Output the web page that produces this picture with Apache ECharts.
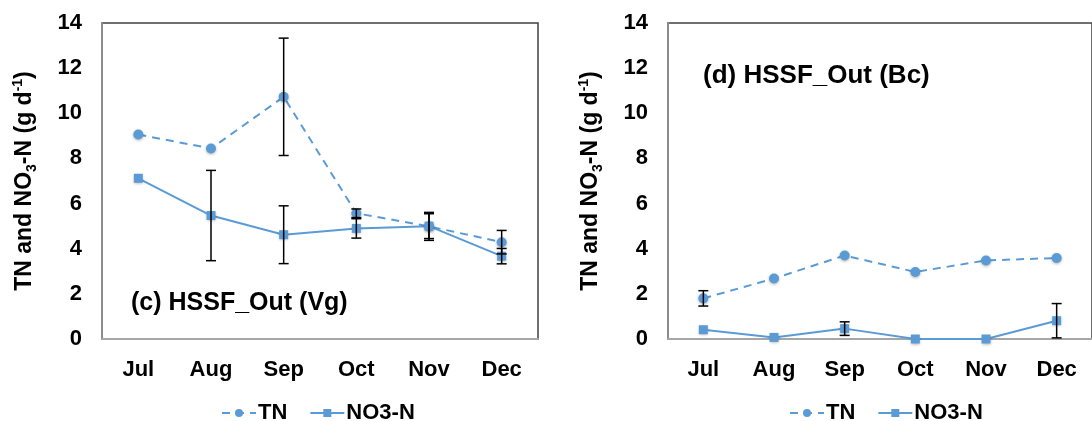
<!DOCTYPE html>
<html>
<head>
<meta charset="utf-8">
<script src="https://cdn.jsdelivr.net/npm/echarts@6/dist/echarts.min.js"></script>
<style>
  html, body { margin: 0; padding: 0; background: #fff; }
  #chart { width: 1092px; height: 421px; }
</style>
</head>
<body>
<div id="chart"></div>
<script>
// months on the x axis
const months = ['Jul', 'Aug', 'Sep', 'Oct', 'Nov', 'Dec']
const yTicks = [0, 2, 4, 6, 8, 10, 12, 14]

// (c) HSSF_Out (Vg)
const vgTN = [9.06, 8.44, 10.73, 5.57, 4.99, 4.29]
const vgTNErr = [0, 0, 2.6, 0.19, 0.62, 0.52]
const vgNO3 = [7.12, 5.47, 4.62, 4.9, 5.0, 3.67]
const vgNO3Err = [0, 2.0, 1.28, 0.43, 0.55, 0.34]

// (d) HSSF_Out (Bc)
const bcTN = [1.8, 2.68, 3.7, 2.97, 3.48, 3.59]
const bcTNErr = [0.34, 0, 0, 0, 0, 0]
const bcNO3 = [0.41, 0.07, 0.46, 0.0, 0.0, 0.81]
const bcNO3Err = [0, 0, 0.3, 0, 0, 0.76]

const blue = '#5b9bd5'
const font = "'Liberation Sans', Arial, sans-serif"

const chart = echarts.init(document.getElementById('chart'))

function errData (vals, errs) {
  const out = []
  vals.forEach((v, i) => {
    if (errs[i] > 0) out.push([i, v - errs[i], v + errs[i]])
  })
  return out
}

// vertical error bar with caps
function renderErr (params, api) {
  const lo = api.coord([api.value(0), api.value(1)])
  const hi = api.coord([api.value(0), api.value(2)])
  const cap = 5
  const style = { stroke: '#000', lineWidth: 1.5 }
  return {
    type: 'group',
    children: [
      { type: 'line', shape: { x1: lo[0], y1: lo[1], x2: hi[0], y2: hi[1] }, style },
      { type: 'line', shape: { x1: lo[0] - cap, y1: lo[1], x2: lo[0] + cap, y2: lo[1] }, style },
      { type: 'line', shape: { x1: hi[0] - cap, y1: hi[1], x2: hi[0] + cap, y2: hi[1] }, style }
    ]
  }
}

function xAxisOf (gridIndex) {
  return {
    type: 'category',
    gridIndex,
    data: months,
    boundaryGap: true,
    axisTick: { show: false },
    axisLine: { lineStyle: { color: '#a6a6a6', width: 2 } },
    axisLabel: { color: '#000', fontWeight: 'bold', fontSize: 22, fontFamily: font, margin: 20 }
  }
}

function yAxisOf (gridIndex) {
  return {
    type: 'value',
    gridIndex,
    min: 0,
    max: 14,
    interval: 2,
    splitLine: { show: false },
    axisTick: { show: false },
    axisLine: { show: true, lineStyle: { color: '#8c8c8c', width: 2 } },
    axisLabel: {
      color: '#000', fontWeight: 'bold', fontSize: 22, fontFamily: font, margin: 20,
      formatter: v => (yTicks.includes(v) ? String(v) : '')
    },
    name: 'TN and NO{sub|3}-N (g d{sup|-1})',
    nameLocation: 'middle',
    nameGap: 63,
    nameTextStyle: {
      color: '#000',
      fontWeight: 'bold',
      fontSize: 23,
      fontFamily: font,
      lineHeight: 28,
      rich: {
        sub: { fontSize: 14, fontWeight: 'bold', fontFamily: font, color: '#000', verticalAlign: 'bottom', lineHeight: 28 },
        sup: { fontSize: 14, fontWeight: 'bold', fontFamily: font, color: '#000', verticalAlign: 'top', lineHeight: 28 }
      }
    }
  }
}

function lineSeries (name, data, idx, dashed) {
  return {
    name,
    type: 'line',
    xAxisIndex: idx,
    yAxisIndex: idx,
    data,
    symbol: dashed ? 'circle' : 'rect',
    symbolSize: dashed ? 10 : 9,
    z: 3,
    lineStyle: { color: blue, width: 2, type: dashed ? [8, 6] : 'solid' },
    itemStyle: {
      color: blue,
      shadowBlur: 3,
      shadowColor: 'rgba(0,0,0,0.3)',
      shadowOffsetY: 1
    },
    emphasis: { disabled: true },
    animation: false
  }
}

function errSeries (vals, errs, idx) {
  return {
    type: 'custom',
    xAxisIndex: idx,
    yAxisIndex: idx,
    data: errData(vals, errs),
    encode: { x: 0, y: [1, 2] },
    renderItem: renderErr,
    z: 4,
    silent: true,
    animation: false
  }
}

const legendCommon = {
  data: ['TN', 'NO3-N'],
  top: 397,
  itemWidth: 34,
  itemHeight: 10,
  itemGap: 22,
  textStyle: { color: '#000', fontWeight: 'bold', fontSize: 22, fontFamily: font, padding: [0, 0, 0, -3] }
}

const option = {
  animation: false,
  backgroundColor: '#fff',
  title: [
    {
      text: '(c) HSSF_Out (Vg)',
      left: 126,
      top: 286,
      textStyle: { color: '#000', fontWeight: 'bold', fontSize: 25, fontFamily: font }
    },
    {
      text: '(d) HSSF_Out (Bc)',
      left: 698,
      top: 58,
      textStyle: { color: '#000', fontWeight: 'bold', fontSize: 26, fontFamily: font }
    }
  ],
  legend: [
    Object.assign({ left: 216 }, legendCommon),
    Object.assign({ left: 784 }, legendCommon)
  ],
  grid: [
    { left: 102, top: 23, width: 436, height: 316, show: true, borderColor: '#404040', borderWidth: 1.5 },
    { left: 668, top: 23, width: 436, height: 316, show: true, borderColor: '#404040', borderWidth: 1.5 }
  ],
  xAxis: [xAxisOf(0), xAxisOf(1)],
  yAxis: [yAxisOf(0), yAxisOf(1)],
  series: [
    lineSeries('TN', vgTN, 0, true),
    lineSeries('NO3-N', vgNO3, 0, false),
    errSeries(vgTN, vgTNErr, 0),
    errSeries(vgNO3, vgNO3Err, 0),
    lineSeries('TN', bcTN, 1, true),
    lineSeries('NO3-N', bcNO3, 1, false),
    errSeries(bcTN, bcTNErr, 1),
    errSeries(bcNO3, bcNO3Err, 1)
  ]
}

chart.setOption(option)
</script>
</body>
</html>
